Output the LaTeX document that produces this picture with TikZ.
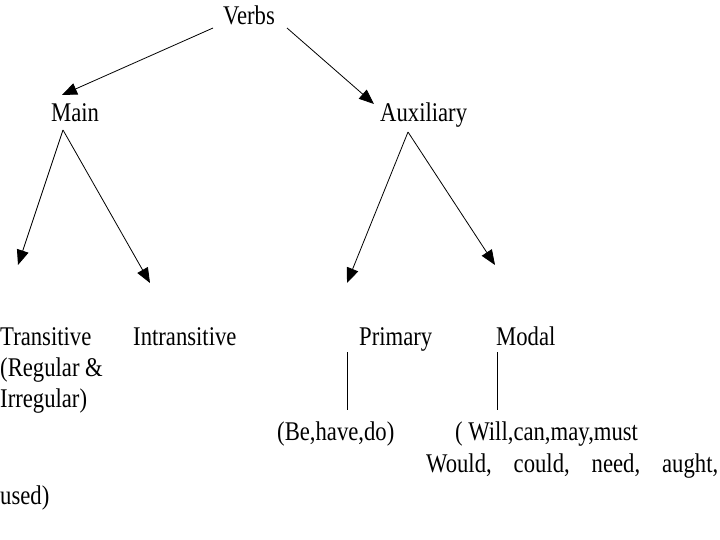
\documentclass[tikz,border=0pt]{standalone}
\usepackage{fontspec}
\setmainfont[FakeStretch=0.84]{Liberation Serif}
\usetikzlibrary{arrows.meta, calc}

\begin{document}
\begin{tikzpicture}[x=1pt, y=-1pt,
  word/.style={inner sep=0pt, anchor=base west, align=left,
               font=\fontsize{27}{31}\selectfont},
  arr/.style={-{Triangle[length=15pt, width=12pt]}, line width=0.8pt},
  link/.style={line width=0.8pt}
]
  \useasboundingbox (0,0) rectangle (720,540);
  % top levels
  \node[word] (verbs) at (223,25)  {Verbs};
  \node[word] (main)  at (51,122)  {Main};
  \node[word] (aux)   at (380,122) {Auxiliary};
  % leaves
  \node[word] (trans)   at (0,407)   {Transitive\\(Regular \&\\Irregular)};
  \node[word] (intrans) at (133,345) {Intransitive};
  \node[word] (prim)    at (359,345) {Primary};
  \node[word] (modal)   at (496,345) {Modal};
  \node[word] (behave)  at (277,440) {(Be,have,do)};
  \node[word] (will)    at (455,440) {( Will,can,may,must};
  \node[word] (would)   at (426,472) {\makebox[292pt][s]{Would, could, need, aught,}};
  \node[word] (used)    at (0,504)   {used)};

  \draw[arr] ([shift={(-10,3)}]verbs.base west) -- ([shift={(11,-27)}]main.base west);
  \draw[arr] ([shift={(64,3)}]verbs.base west) -- ([shift={(-6,-18)}]aux.base west);
  \draw[arr] ([shift={(12,8)}]main.base west) -- ([shift={(18,-142)}]trans.base west);
  \draw[arr] ([shift={(12,8)}]main.base west) -- ([shift={(17,-62)}]intrans.base west);
  \draw[arr] ([shift={(28,10)}]aux.base west) -- ([shift={(-12,-62)}]prim.base west);
  \draw[arr] ([shift={(28,10)}]aux.base west) -- ([shift={(-1,-80)}]modal.base west);
  \draw[link] ([shift={(-12,7)}]prim.base west) -- ([shift={(70,-30)}]behave.base west);
  \draw[link] ([shift={(1,7)}]modal.base west) -- ([shift={(42,-30)}]will.base west);
\end{tikzpicture}
\end{document}
